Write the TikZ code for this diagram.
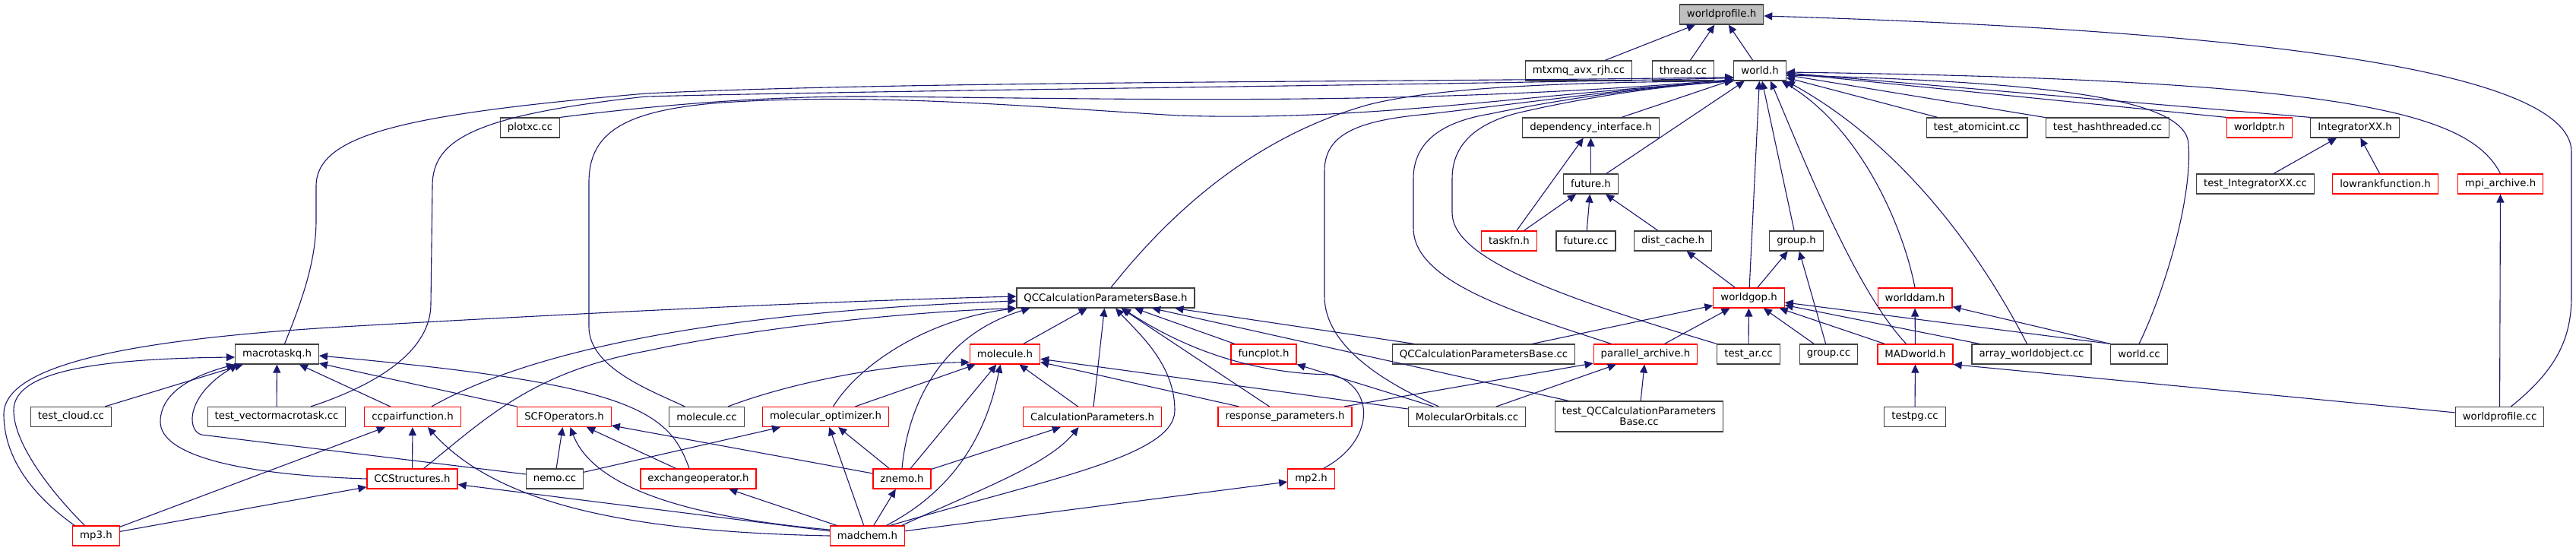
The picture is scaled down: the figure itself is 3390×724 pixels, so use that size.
\documentclass[tikz,border=0pt]{standalone}
\usepackage{fontspec}
\setmainfont{DejaVu Sans}
\usetikzlibrary{arrows.meta}
\definecolor{edgeblue}{HTML}{191970}
\definecolor{truncred}{HTML}{FF0000}
\begin{document}
\begin{tikzpicture}[x=1pt, y=-1pt,
    incfile/.style={draw=black!75, fill=white, line width=1.2pt, rectangle, minimum height=26pt, inner xsep=9.5pt, inner ysep=0pt, font=\fontsize{13.3}{14}\selectfont},
    trunc/.style={incfile, draw=truncred},
    rootfile/.style={incfile, fill=black!25},
    inc/.style={-{Triangle[length=11pt, width=10pt]}, draw=edgeblue, fill=none, line width=1.1pt}]
    \useasboundingbox (0,0) rectangle (3390,724);

    \node[rootfile] (wph) at (2265.5,19) {worldprofile.h};
    \node[incfile] (mtxmq) at (2077.5,93) {mtxmq\_avx\_rjh.cc};
    \node[incfile] (thread) at (2215,93) {thread.cc};
    \node[incfile] (world) at (2316,93) {world.h};
    \node[incfile] (plotxc) at (697.5,168) {plotxc.cc};
    \node[incfile] (depint) at (2093.5,168) {dependency\_interface.h};
    \node[incfile] (atomic) at (2601.5,168) {test\_atomicint.cc};
    \node[incfile] (hashthr) at (2773.5,168) {test\_hashthreaded.cc};
    \node[trunc] (wptr) at (2973.5,168) {worldptr.h};
    \node[incfile] (integ) at (3099,168) {IntegratorXX.h};
    \node[incfile] (future) at (2093.5,242) {future.h};
    \node[incfile] (tinteg) at (2968,242) {test\_IntegratorXX.cc};
    \node[trunc] (lowrank) at (3139,242) {lowrankfunction.h};
    \node[trunc] (mpiar) at (3290.5,242) {mpi\_archive.h};
    \node[trunc] (taskfn) at (1986,317) {taskfn.h};
    \node[incfile] (futcc) at (2087,317) {future.cc};
    \node[incfile] (dcache) at (2201.5,317) {dist\_cache.h};
    \node[incfile] (grouph) at (2364,317) {group.h};
    \node[incfile] (qcbase) at (1455,392) {QCCalculationParametersBase.h};
    \node[trunc] (wgop) at (2301.5,392) {worldgop.h};
    \node[trunc] (wdam) at (2520,392) {worlddam.h};
    \node[incfile] (mtq) at (364.5,466) {macrotaskq.h};
    \node[trunc] (molh) at (1322.5,466) {molecule.h};
    \node[trunc] (fplot) at (1663,466) {funcplot.h};
    \node[incfile] (qcbcc) at (1952.5,466) {QCCalculationParametersBase.cc};
    \node[trunc] (parar) at (2165.5,466) {parallel\_archive.h};
    \node[incfile] (testar) at (2301,466) {test\_ar.cc};
    \node[incfile] (groupcc) at (2406.5,466) {group.cc};
    \node[trunc] (madw) at (2520.5,466) {MADworld.h};
    \node[incfile] (arrwo) at (2673.5,466) {array\_worldobject.cc};
    \node[incfile] (worldcc) at (2815,466) {world.cc};
    \node[incfile] (tcloud) at (93.5,548.5) {test\_cloud.cc};
    \node[incfile] (tvmt) at (364,548.5) {test\_vectormacrotask.cc};
    \node[trunc] (ccpair) at (543,548.5) {ccpairfunction.h};
    \node[trunc] (scfop) at (742.5,548.5) {SCFOperators.h};
    \node[incfile] (molcc) at (930,548.5) {molecule.cc};
    \node[trunc] (molopt) at (1086.5,548.5) {molecular\_optimizer.h};
    \node[trunc] (calcpar) at (1437.5,548.5) {CalculationParameters.h};
    \node[trunc] (resppar) at (1691,548.5) {response\_parameters.h};
    \node[incfile] (molorb) at (1930.5,548.5) {MolecularOrbitals.cc};
    \node[incfile, align=center, minimum height=40pt] (tqcb) at (2157,548) {test\_QCCalculationParameters\\Base.cc};
    \node[incfile] (testpg) at (2520,548.5) {testpg.cc};
    \node[incfile] (wpcc) at (3289.5,548.5) {worldprofile.cc};
    \node[trunc] (ccstr) at (542.5,630) {CCStructures.h};
    \node[incfile] (nemo) at (730,630) {nemo.cc};
    \node[trunc] (exch) at (919,630) {exchangeoperator.h};
    \node[trunc] (znemo) at (1187,630) {znemo.h};
    \node[trunc] (mp2) at (1725.5,630) {mp2.h};
    \node[trunc] (mp3) at (126.5,705) {mp3.h};
    \node[trunc] (madchem) at (1141.5,705) {madchem.h};

    \draw[inc] (mtxmq) -- (wph);
    \draw[inc] (thread) -- (wph);
    \draw[inc] (world) -- (wph);
    \draw[inc] ([xshift=15pt]wpcc.north) .. controls (3360,490) and (3384,450) .. (3384,390) -- (3384,200) .. controls (3384,90) and (2950,40) .. ([yshift=-2pt]wph.east);

    \draw[inc] ([xshift=10pt]mtq.north) .. controls (400,390) and (416,340) .. (416,290) -- (416,245) .. controls (416,175) and (540,150) .. (850,123) .. controls (1200,106) and (1900,108) .. ([yshift=5pt]world.south west);
    \draw[inc] ([xshift=45pt]tvmt.north) .. controls (500,505) and (567,460) .. (567,400) -- (569,245) .. controls (569,185) and (620,152) .. (850,127) .. controls (1200,118) and (1900,112) .. ([yshift=4pt]world.south west);
    \draw[inc] (plotxc.north east) .. controls (850,140) and (1000,126) .. (1150,127) .. controls (1500,130) and (1850,140) .. ([yshift=2pt]world.south west);
    \draw[inc] ([xshift=-29pt]molcc.north) .. controls (860,515) and (775,485) .. (775,430) -- (775,240) .. controls (775,175) and (820,145) .. (950,135) .. controls (1150,122) and (1350,140) .. (1550,152) .. controls (1800,160) and (2000,125) .. (world.south west);
    \draw[inc] ([xshift=7pt]qcbase.north) .. controls (1540,280) and (1650,180) .. (1800,138) .. controls (1900,112) and (2100,108) .. (world.south west);
    \draw[inc] ([xshift=-37pt]molorb.north) .. controls (1790,490) and (1743,440) .. (1743,390) -- (1743,225) .. controls (1743,175) and (1790,158) .. (1880,150) .. controls (2050,130) and (2180,112) .. (world.south west);
    \draw[inc] ([xshift=-45pt]parar.north) .. controls (1990,410) and (1860,370) .. (1860,300) -- (1860,235) .. controls (1860,185) and (1900,160) .. (1960,150) .. controls (2080,125) and (2200,112) .. (world.south west);
    \draw[inc] (testar.north west) .. controls (2050,390) and (1911,340) .. (1911,280) -- (1911,235) .. controls (1911,185) and (1950,160) .. (2000,148) .. controls (2100,125) and (2200,112) .. (world.south west);
    \draw[inc] (depint) -- (world);
    \draw[inc] (future) -- (world);
    \draw[inc] (grouph) -- (world);
    \draw[inc] (wgop) -- (world);
    \draw[inc] ([xshift=-12pt]madw.north) .. controls (2440,380) and (2370,200) .. ([xshift=14pt]world.south);
    \draw[inc] (wdam.north) .. controls (2505,300) and (2450,170) .. ([xshift=-6pt]world.south east);
    \draw[inc] ([xshift=-6pt]arrwo.north) .. controls (2620,360) and (2520,200) .. (world.south east);
    \draw[inc] (worldcc.north) .. controls (2850,380) and (2885,260) .. (2880,190) .. controls (2878,130) and (2700,108) .. ([yshift=-6pt]world.east);
    \draw[inc] (atomic) -- (world);
    \draw[inc] (hashthr) -- (world);
    \draw[inc] (wptr.north west) -- (world);
    \draw[inc] (integ.north west) -- (world);
    \draw[inc] (mpiar.north) .. controls (3250,150) and (3100,105) .. ([yshift=-2pt]world.east);

    \draw[inc] (future) -- (depint);
    \draw[inc] (taskfn) -- (depint);
    \draw[inc] (taskfn) -- (future);
    \draw[inc] (futcc) -- (future);
    \draw[inc] (dcache) -- (future);
    \draw[inc] (wgop) -- (dcache);
    \draw[inc] (wgop) -- (grouph);
    \draw[inc] (groupcc) -- (grouph);
    \draw[inc] (tinteg) -- (integ);
    \draw[inc] (lowrank) -- (integ);
    \draw[inc] (wpcc) -- (mpiar);
    \draw[inc] (qcbcc) -- (wgop);
    \draw[inc] (parar) -- (wgop);
    \draw[inc] (testar) -- (wgop);
    \draw[inc] (groupcc) -- (wgop);
    \draw[inc] (madw) -- (wgop);
    \draw[inc] (worldcc.north west) -- (wgop);
    \draw[inc] (arrwo) -- (wgop);
    \draw[inc] (madw) -- (wdam);
    \draw[inc] (worldcc.north west) -- (wdam);
    \draw[inc] (testpg) -- (madw);
    \draw[inc] (wpcc) -- (madw.south east);
    \draw[inc] (resppar) -- (parar);
    \draw[inc] (molorb) -- (parar);
    \draw[inc] (tqcb) -- (parar);

    \draw[inc] ([xshift=3pt]mp3.north west) .. controls (40,650) and (5,600) .. (5,545) .. controls (5,475) and (200,445) .. (450,430) .. controls (800,410) and (1100,396) .. ([yshift=2pt]qcbase.west);
    \draw[inc] ([xshift=25pt]ccpair.north) .. controls (700,460) and (950,410) .. ([yshift=-4pt]qcbase.west);
    \draw[inc] ([xshift=15pt]ccstr.north) .. controls (640,550) and (700,490) .. (850,462) .. controls (1000,430) and (1200,410) .. (qcbase.south west);
    \draw[inc] ([xshift=10pt]molopt.north) .. controls (1130,480) and (1220,420) .. (qcbase.south west);
    \draw[inc] (znemo.north) .. controls (1195,530) and (1240,440) .. ([xshift=18pt]qcbase.south west);
    \draw[inc] (molh) -- (qcbase);
    \draw[inc] (calcpar) -- (qcbase);
    \draw[inc] ([xshift=30pt]madchem.north) .. controls (1380,630) and (1546,600) .. (1546,540) .. controls (1546,480) and (1500,440) .. ([xshift=13pt]qcbase.south);
    \draw[inc] ([xshift=16pt]mp2.north) .. controls (1810,580) and (1810,510) .. (1754,493) .. controls (1650,492) and (1560,460) .. ([xshift=22pt]qcbase.south);
    \draw[inc] (resppar) -- (qcbase);
    \draw[inc] (fplot) -- (qcbase);
    \draw[inc] (qcbcc) -- (qcbase);
    \draw[inc] (tqcb) -- (qcbase);

    \draw[inc] ([xshift=28pt]molcc.north) .. controls (1050,500) and (1180,478) .. ([yshift=3pt]molh.south west);
    \draw[inc] (molopt) -- (molh);
    \draw[inc] (znemo) -- (molh);
    \draw[inc] ([xshift=25pt]madchem.north) .. controls (1265,640) and (1300,560) .. ([xshift=-6pt]molh.south);
    \draw[inc] (calcpar) -- (molh);
    \draw[inc] (resppar) -- (molh);
    \draw[inc] (molorb) -- (molh);
    \draw[inc] (molorb) -- (fplot);
    \draw[inc] (madchem) -- (mp2);

    \draw[inc] (nemo) -- (molopt);
    \draw[inc] (znemo) -- (molopt);
    \draw[inc] (madchem) -- (molopt);
    \draw[inc] (znemo) -- (calcpar);
    \draw[inc] ([xshift=45pt]madchem.north) .. controls (1300,640) and (1380,610) .. ([xshift=-18pt]calcpar.south);
    \draw[inc] (madchem) -- (znemo);
    \draw[inc] (madchem) -- (exch);
    \draw[inc] (nemo) -- (scfop);
    \draw[inc] (znemo) -- (scfop);
    \draw[inc] (exch) -- (scfop);
    \draw[inc] ([yshift=8pt]madchem.west) .. controls (900,680) and (780,640) .. ([xshift=8pt]scfop.south);
    \draw[inc] (mp3) -- (ccpair);
    \draw[inc] (ccstr) -- (ccpair);
    \draw[inc] (madchem.west) .. controls (850,700) and (660,670) .. ([xshift=20pt]ccpair.south);
    \draw[inc] (mp3) -- (ccstr);
    \draw[inc] (madchem) -- (ccstr);

    \draw[inc] (tcloud) -- (mtq);
    \draw[inc] (tvmt) -- (mtq);
    \draw[inc] (ccpair) -- (mtq);
    \draw[inc] (scfop) -- (mtq);
    \draw[inc] ([xshift=-12pt]exch.north) .. controls (880,540) and (830,505) .. ([yshift=-2pt]mtq.east);
    \draw[inc] ([xshift=-15pt]mp3.north) .. controls (60,640) and (18,580) .. (18,540) .. controls (18,490) and (120,472) .. ([yshift=-4pt]mtq.west);
    \draw[inc] (ccstr.west) .. controls (320,625) and (211,600) .. (211,555) .. controls (211,510) and (270,490) .. (mtq.south west);
    \draw[inc] ([yshift=6pt]nemo.west) -- (265,572) .. controls (245,566) and (245,520) .. ([xshift=4pt]mtq.south west);
\end{tikzpicture}
\end{document}
